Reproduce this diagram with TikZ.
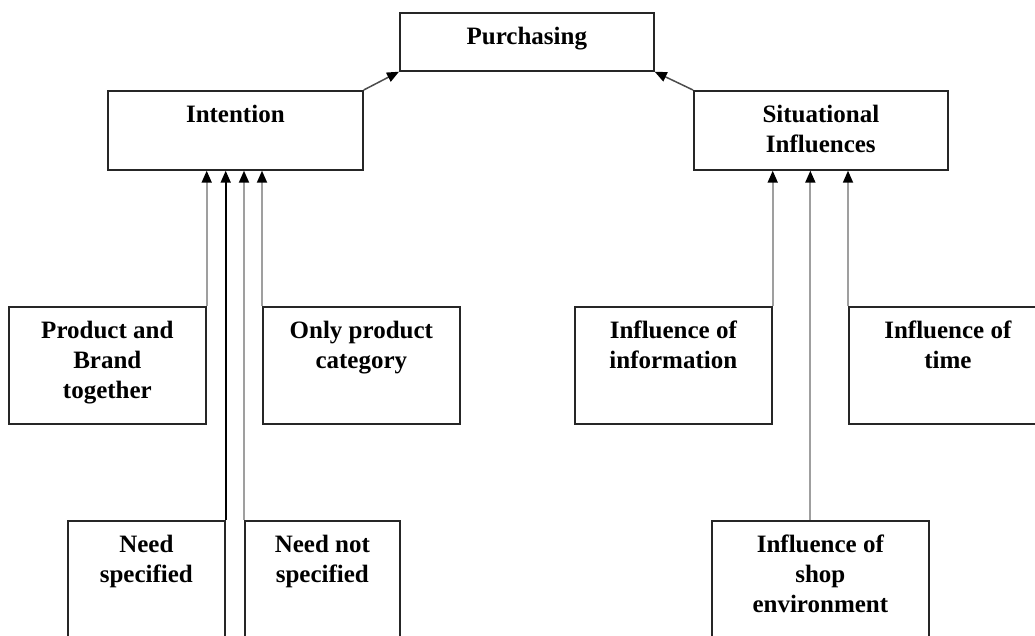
\documentclass[tikz,border=0pt]{standalone}
\usepackage{fontspec}
\setmainfont{Liberation Serif}
\usetikzlibrary{positioning,arrows.meta}

\begin{document}
\begin{tikzpicture}[x=1pt, y=-1pt,
    box/.style={draw=black!85, line width=1.7pt, inner sep=0pt, anchor=north west},
    txt/.style={font=\fontsize{25}{30}\selectfont\bfseries, align=center, inner sep=0pt},
    feed/.style={draw=gray!75, line width=1.8pt, -{Triangle[length=12pt,width=10pt,black]}},
    up/.style={draw=black!70, line width=1.5pt, -{Triangle[length=12pt,width=10pt,black]}}]
    \useasboundingbox (0,0) rectangle (1035,635);
    \clip (0,0) rectangle (1035,635);

    % Top level
    \node[box, minimum width=254pt, minimum height=58pt] (pur) at (399,12) {};
    \node[txt, below=15pt of pur.north] (purT) {Purchasing};

    % Second level
    \node[box, minimum width=255pt, minimum height=79pt] (int) at (107,90) {};
    \node[txt, below=15pt of int.north] (intT) {Intention};
    \node[box, minimum width=254pt, minimum height=79pt] (sit) at (693,90) {};
    \node[txt, below=15pt of sit.north] (sitT) {Situational\\Influences};

    % Intention sources
    \node[box, minimum width=197pt, minimum height=117pt] (pab) at (8,306) {};
    \node[txt, below=15pt of pab.north] (pabT) {Product and\\Brand\\together};
    \node[box, minimum width=197pt, minimum height=117pt] (opc) at (262,306) {};
    \node[txt, below=15pt of opc.north] (opcT) {Only product\\category};
    \node[box, minimum width=157pt, minimum height=140pt] (nsp) at (67,520) {};
    \node[txt, below=15pt of nsp.north] (nspT) {Need\\specified};
    \node[box, minimum width=155pt, minimum height=140pt] (nns) at (244,520) {};
    \node[txt, below=15pt of nns.north] (nnsT) {Need not\\specified};

    % Situational sources
    \node[box, minimum width=197pt, minimum height=117pt] (ioi) at (574,306) {};
    \node[txt, below=15pt of ioi.north] (ioiT) {Influence of\\information};
    \node[box, minimum width=198pt, minimum height=117pt] (iot) at (848,306) {};
    \node[txt, below=15pt of iot.north] (iotT) {Influence of\\time};
    \node[box, minimum width=217pt, minimum height=140pt] (ise) at (711,520) {};
    \node[txt, below=15pt of ise.north] (iseT) {Influence of\\shop\\environment};
    \coordinate (iseTop) at ([xshift=-10pt]ise.north);

    % Links to purchasing
    \draw[up] (int.north east) -- (pur.south west);
    \draw[up] (sit.north west) -- (pur.south east);

    % Links to intention
    \draw[feed] (pab.north east) -- (pab.north east |- int.south);
    \draw[feed, draw=black] (nsp.north east) -- (nsp.north east |- int.south);
    \draw[feed] (nns.north west) -- (nns.north west |- int.south);
    \draw[feed] (opc.north west) -- (opc.north west |- int.south);

    % Links to situational influences
    \draw[feed] (ioi.north east) -- (ioi.north east |- sit.south);
    \draw[feed] (iseTop) -- (iseTop |- sit.south);
    \draw[feed] (iot.north west) -- (iot.north west |- sit.south);
\end{tikzpicture}
\end{document}
